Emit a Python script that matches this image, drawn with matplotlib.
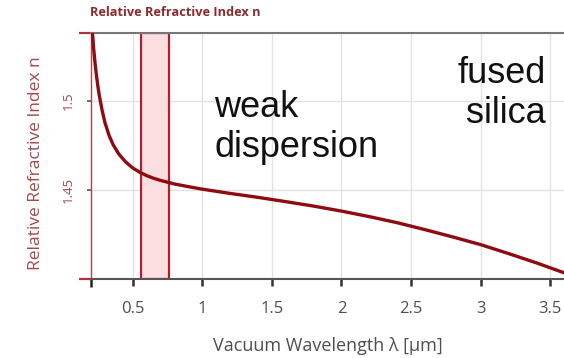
import matplotlib
matplotlib.use("Agg")
import matplotlib.pyplot as plt

# refractive index of fused silica vs vacuum wavelength (um)
wavelength = [0.20, 0.21, 0.22, 0.23, 0.24, 0.25, 0.26, 0.28, 0.30, 0.33,
              0.36, 0.40, 0.45, 0.50, 0.55, 0.60, 0.65, 0.70, 0.80, 0.90,
              1.00, 1.20, 1.40, 1.60, 1.80, 2.00, 2.20, 2.40, 2.60, 2.80,
              3.00, 3.20, 3.40, 3.60]
index_n = [1.5505, 1.5384, 1.5285, 1.5204, 1.5137, 1.5078, 1.5028, 1.4946,
           1.4878, 1.4805, 1.4752, 1.4701, 1.4656, 1.4623, 1.4599, 1.4580,
           1.4565, 1.4553, 1.4533, 1.4518, 1.4504, 1.4480, 1.4458, 1.4434,
           1.4409, 1.4381, 1.4350, 1.4316, 1.4277, 1.4236, 1.4193, 1.4143,
           1.4091, 1.4035]

visible_band = (0.56, 0.76)
x_range = (0.2, 3.6)
y_range = (1.40, 1.538)
x_ticks = [0.5, 1, 1.5, 2, 2.5, 3, 3.5]
x_tick_labels = ["0.5", "1", "1.5", "2", "2.5", "3", "3.5"]
y_ticks = [1.45, 1.5]
y_tick_labels = ["1.45", "1.5"]

W, H = 564, 358
fig = plt.figure(figsize=(W / 100, H / 100), dpi=100)
ax = fig.add_axes([91 / W, (H - 279) / H, (W - 91) / W, (279 - 33) / H])

red_dark = "#8e0b12"
red_axis = "#a8474a"
gray_txt = "#4f4f4f"

ax.plot(wavelength, index_n, color=red_dark, lw=2.4, zorder=3)
ax.axvspan(*visible_band, facecolor="#fbdfe0", edgecolor="#b21f2c",
           lw=1.6, zorder=2)

ax.set_xlim(*x_range)
ax.set_ylim(*y_range)

ax.set_xticks(x_ticks)
ax.set_xticklabels(x_tick_labels, fontsize=12, color=gray_txt,
                   family="Open Sans")
ax.set_yticks(y_ticks)
ax.set_yticklabels(y_tick_labels, fontsize=9.5, color=red_axis,
                   family="Open Sans", rotation=90, va="center")
ax.tick_params(axis="x", direction="out", length=5, width=1.8,
               color="#333333", pad=11)
ax.tick_params(axis="y", direction="out", length=3, width=1.2,
               color="#555555", pad=9)

# end-of-range marks at the axis corners
ax.set_xticks([x_range[0]], minor=True)
ax.set_yticks(list(y_range), minor=True)
ax.tick_params(axis="x", which="minor", direction="out", length=6,
               width=1.8, color="#222222")
ax.tick_params(axis="y", which="minor", direction="out", length=9,
               width=1.6, color="#b5303a")

ax.grid(True, color="#e2e2e2", lw=1)
ax.set_axisbelow(True)

ax.spines["right"].set_visible(False)
ax.spines["top"].set_color("#777777")
ax.spines["top"].set_linewidth(1.5)
ax.spines["bottom"].set_color("#555555")
ax.spines["bottom"].set_linewidth(1.5)
ax.spines["left"].set_color(red_axis)
ax.spines["left"].set_linewidth(1.0)

ax.set_xlabel("Vacuum Wavelength λ [µm]", fontsize=13, color=gray_txt,
              family="Open Sans")
ax.xaxis.set_label_coords(0.5, -0.235)
ax.set_ylabel("Relative Refractive Index n", fontsize=12.5, color=red_axis,
              family="Open Sans")
ax.yaxis.set_label_coords(-0.1, 0.47)

fig.text(90 / W, 1 - 13 / H, "Relative Refractive Index n", fontsize=9.2,
         fontweight="bold", color="#8b2a2e", family="Open Sans",
         ha="left", va="center")

# multi-line text: baseline alignment refers to the last line
fig.text(546 / W, 1 - 123 / H, "fused\nsilica", fontsize=26,
         family="Liberation Sans", ha="right", va="baseline",
         multialignment="right", color="#111111")
fig.text(214 / W, 1 - 157 / H, "weak\ndispersion", fontsize=26,
         family="Liberation Sans", ha="left", va="baseline",
         color="#111111")

fig.savefig("out.png", dpi=100)
